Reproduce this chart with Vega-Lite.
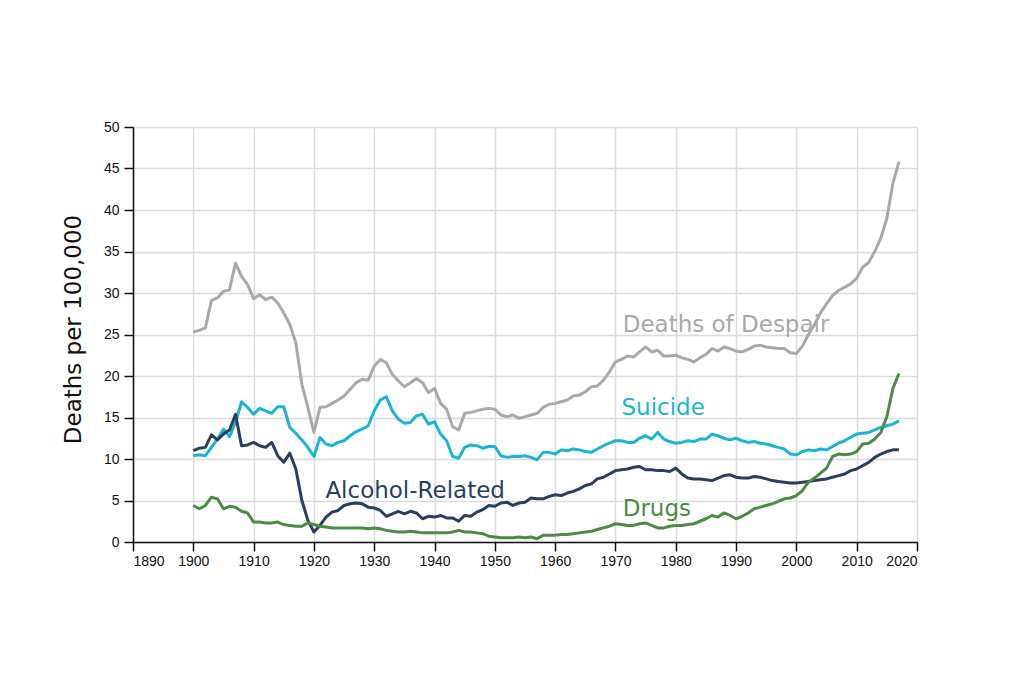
{
  "$schema": "https://vega.github.io/schema/vega-lite/v6.json",
  "autosize": "none",
  "width": 784,
  "height": 415,
  "padding": {"left": 133, "top": 127, "right": 107, "bottom": 138},
  "background": "#ffffff",
  "config": {"view": {"stroke": null}},
  "datasets": {
    "rates": [
      {"year":1900,"despair":25.3,"suicide":10.4,"alcohol":11.0,"drugs":4.4},
      {"year":1901,"despair":25.5,"suicide":10.5,"alcohol":11.3,"drugs":4.0},
      {"year":1902,"despair":25.8,"suicide":10.4,"alcohol":11.4,"drugs":4.4},
      {"year":1903,"despair":29.1,"suicide":11.4,"alcohol":12.9,"drugs":5.4},
      {"year":1904,"despair":29.4,"suicide":12.4,"alcohol":12.3,"drugs":5.2},
      {"year":1905,"despair":30.2,"suicide":13.6,"alcohol":13.0,"drugs":4.0},
      {"year":1906,"despair":30.4,"suicide":12.7,"alcohol":13.5,"drugs":4.3},
      {"year":1907,"despair":33.6,"suicide":14.4,"alcohol":15.4,"drugs":4.2},
      {"year":1908,"despair":32.0,"suicide":16.9,"alcohol":11.6,"drugs":3.7},
      {"year":1909,"despair":31.0,"suicide":16.2,"alcohol":11.7,"drugs":3.5},
      {"year":1910,"despair":29.3,"suicide":15.4,"alcohol":12.0,"drugs":2.4},
      {"year":1911,"despair":29.8,"suicide":16.1,"alcohol":11.6,"drugs":2.4},
      {"year":1912,"despair":29.2,"suicide":15.8,"alcohol":11.4,"drugs":2.3},
      {"year":1913,"despair":29.5,"suicide":15.5,"alcohol":12.0,"drugs":2.3},
      {"year":1914,"despair":28.8,"suicide":16.3,"alcohol":10.4,"drugs":2.4},
      {"year":1915,"despair":27.6,"suicide":16.3,"alcohol":9.6,"drugs":2.1},
      {"year":1916,"despair":26.2,"suicide":13.8,"alcohol":10.7,"drugs":2.0},
      {"year":1917,"despair":24.0,"suicide":13.1,"alcohol":8.8,"drugs":1.9},
      {"year":1918,"despair":19.0,"suicide":12.3,"alcohol":5.0,"drugs":1.9},
      {"year":1919,"despair":16.2,"suicide":11.4,"alcohol":2.6,"drugs":2.3},
      {"year":1920,"despair":13.2,"suicide":10.3,"alcohol":1.2,"drugs":2.1},
      {"year":1921,"despair":16.2,"suicide":12.6,"alcohol":2.0,"drugs":1.9},
      {"year":1922,"despair":16.3,"suicide":11.8,"alcohol":3.0,"drugs":1.8},
      {"year":1923,"despair":16.7,"suicide":11.6,"alcohol":3.6,"drugs":1.7},
      {"year":1924,"despair":17.1,"suicide":12.0,"alcohol":3.8,"drugs":1.7},
      {"year":1925,"despair":17.6,"suicide":12.2,"alcohol":4.4,"drugs":1.7},
      {"year":1926,"despair":18.4,"suicide":12.8,"alcohol":4.6,"drugs":1.7},
      {"year":1927,"despair":19.2,"suicide":13.3,"alcohol":4.7,"drugs":1.7},
      {"year":1928,"despair":19.6,"suicide":13.6,"alcohol":4.6,"drugs":1.7},
      {"year":1929,"despair":19.5,"suicide":14.0,"alcohol":4.2,"drugs":1.6},
      {"year":1930,"despair":21.2,"suicide":15.8,"alcohol":4.1,"drugs":1.7},
      {"year":1931,"despair":22.0,"suicide":17.1,"alcohol":3.8,"drugs":1.6},
      {"year":1932,"despair":21.6,"suicide":17.5,"alcohol":3.1,"drugs":1.4},
      {"year":1933,"despair":20.2,"suicide":15.8,"alcohol":3.4,"drugs":1.3},
      {"year":1934,"despair":19.4,"suicide":14.8,"alcohol":3.7,"drugs":1.2},
      {"year":1935,"despair":18.7,"suicide":14.3,"alcohol":3.4,"drugs":1.2},
      {"year":1936,"despair":19.2,"suicide":14.4,"alcohol":3.7,"drugs":1.3},
      {"year":1937,"despair":19.7,"suicide":15.2,"alcohol":3.5,"drugs":1.2},
      {"year":1938,"despair":19.2,"suicide":15.4,"alcohol":2.8,"drugs":1.1},
      {"year":1939,"despair":18.0,"suicide":14.2,"alcohol":3.1,"drugs":1.1},
      {"year":1940,"despair":18.5,"suicide":14.5,"alcohol":3.0,"drugs":1.1},
      {"year":1941,"despair":16.7,"suicide":13.0,"alcohol":3.2,"drugs":1.1},
      {"year":1942,"despair":16.0,"suicide":12.2,"alcohol":2.9,"drugs":1.1},
      {"year":1943,"despair":13.9,"suicide":10.3,"alcohol":2.9,"drugs":1.2},
      {"year":1944,"despair":13.5,"suicide":10.1,"alcohol":2.5,"drugs":1.4},
      {"year":1945,"despair":15.5,"suicide":11.4,"alcohol":3.2,"drugs":1.2},
      {"year":1946,"despair":15.6,"suicide":11.7,"alcohol":3.1,"drugs":1.2},
      {"year":1947,"despair":15.8,"suicide":11.6,"alcohol":3.6,"drugs":1.1},
      {"year":1948,"despair":16.0,"suicide":11.3,"alcohol":3.9,"drugs":1.0},
      {"year":1949,"despair":16.1,"suicide":11.5,"alcohol":4.4,"drugs":0.7},
      {"year":1950,"despair":16.0,"suicide":11.5,"alcohol":4.3,"drugs":0.6},
      {"year":1951,"despair":15.3,"suicide":10.4,"alcohol":4.7,"drugs":0.5},
      {"year":1952,"despair":15.1,"suicide":10.2,"alcohol":4.8,"drugs":0.5},
      {"year":1953,"despair":15.3,"suicide":10.3,"alcohol":4.4,"drugs":0.5},
      {"year":1954,"despair":14.9,"suicide":10.3,"alcohol":4.7,"drugs":0.6},
      {"year":1955,"despair":15.1,"suicide":10.4,"alcohol":4.8,"drugs":0.5},
      {"year":1956,"despair":15.3,"suicide":10.2,"alcohol":5.3,"drugs":0.6},
      {"year":1957,"despair":15.5,"suicide":9.9,"alcohol":5.2,"drugs":0.4},
      {"year":1958,"despair":16.2,"suicide":10.8,"alcohol":5.2,"drugs":0.8},
      {"year":1959,"despair":16.6,"suicide":10.8,"alcohol":5.5,"drugs":0.8},
      {"year":1960,"despair":16.7,"suicide":10.6,"alcohol":5.7,"drugs":0.8},
      {"year":1961,"despair":16.9,"suicide":11.1,"alcohol":5.6,"drugs":0.9},
      {"year":1962,"despair":17.1,"suicide":11.0,"alcohol":5.9,"drugs":0.9},
      {"year":1963,"despair":17.6,"suicide":11.2,"alcohol":6.1,"drugs":1.0},
      {"year":1964,"despair":17.7,"suicide":11.1,"alcohol":6.4,"drugs":1.1},
      {"year":1965,"despair":18.1,"suicide":10.9,"alcohol":6.8,"drugs":1.2},
      {"year":1966,"despair":18.7,"suicide":10.8,"alcohol":7.0,"drugs":1.3},
      {"year":1967,"despair":18.8,"suicide":11.2,"alcohol":7.6,"drugs":1.5},
      {"year":1968,"despair":19.5,"suicide":11.6,"alcohol":7.8,"drugs":1.7},
      {"year":1969,"despair":20.5,"suicide":11.9,"alcohol":8.2,"drugs":1.9},
      {"year":1970,"despair":21.7,"suicide":12.2,"alcohol":8.6,"drugs":2.2},
      {"year":1971,"despair":22.0,"suicide":12.2,"alcohol":8.7,"drugs":2.1},
      {"year":1972,"despair":22.4,"suicide":12.0,"alcohol":8.8,"drugs":2.0},
      {"year":1973,"despair":22.3,"suicide":12.0,"alcohol":9.0,"drugs":2.0},
      {"year":1974,"despair":22.9,"suicide":12.5,"alcohol":9.1,"drugs":2.2},
      {"year":1975,"despair":23.5,"suicide":12.8,"alcohol":8.7,"drugs":2.3},
      {"year":1976,"despair":22.9,"suicide":12.4,"alcohol":8.7,"drugs":2.0},
      {"year":1977,"despair":23.1,"suicide":13.2,"alcohol":8.6,"drugs":1.7},
      {"year":1978,"despair":22.4,"suicide":12.4,"alcohol":8.6,"drugs":1.7},
      {"year":1979,"despair":22.4,"suicide":12.1,"alcohol":8.5,"drugs":1.9},
      {"year":1980,"despair":22.5,"suicide":11.9,"alcohol":8.9,"drugs":2.0},
      {"year":1981,"despair":22.2,"suicide":12.0,"alcohol":8.2,"drugs":2.0},
      {"year":1982,"despair":22.0,"suicide":12.2,"alcohol":7.7,"drugs":2.1},
      {"year":1983,"despair":21.7,"suicide":12.1,"alcohol":7.6,"drugs":2.2},
      {"year":1984,"despair":22.2,"suicide":12.4,"alcohol":7.6,"drugs":2.5},
      {"year":1985,"despair":22.6,"suicide":12.4,"alcohol":7.5,"drugs":2.8},
      {"year":1986,"despair":23.3,"suicide":13.0,"alcohol":7.4,"drugs":3.2},
      {"year":1987,"despair":23.0,"suicide":12.8,"alcohol":7.7,"drugs":3.0},
      {"year":1988,"despair":23.5,"suicide":12.5,"alcohol":8.0,"drugs":3.5},
      {"year":1989,"despair":23.3,"suicide":12.3,"alcohol":8.1,"drugs":3.2},
      {"year":1990,"despair":23.0,"suicide":12.5,"alcohol":7.8,"drugs":2.8},
      {"year":1991,"despair":22.9,"suicide":12.2,"alcohol":7.7,"drugs":3.1},
      {"year":1992,"despair":23.2,"suicide":12.0,"alcohol":7.7,"drugs":3.5},
      {"year":1993,"despair":23.6,"suicide":12.1,"alcohol":7.9,"drugs":4.0},
      {"year":1994,"despair":23.7,"suicide":11.9,"alcohol":7.8,"drugs":4.2},
      {"year":1995,"despair":23.5,"suicide":11.8,"alcohol":7.6,"drugs":4.4},
      {"year":1996,"despair":23.4,"suicide":11.6,"alcohol":7.4,"drugs":4.6},
      {"year":1997,"despair":23.3,"suicide":11.4,"alcohol":7.3,"drugs":4.9},
      {"year":1998,"despair":23.3,"suicide":11.2,"alcohol":7.2,"drugs":5.2},
      {"year":1999,"despair":22.8,"suicide":10.6,"alcohol":7.1,"drugs":5.3},
      {"year":2000,"despair":22.7,"suicide":10.5,"alcohol":7.1,"drugs":5.6},
      {"year":2001,"despair":23.6,"suicide":10.9,"alcohol":7.2,"drugs":6.2},
      {"year":2002,"despair":25.0,"suicide":11.1,"alcohol":7.3,"drugs":7.2},
      {"year":2003,"despair":26.2,"suicide":11.0,"alcohol":7.4,"drugs":7.7},
      {"year":2004,"despair":27.6,"suicide":11.2,"alcohol":7.5,"drugs":8.3},
      {"year":2005,"despair":28.7,"suicide":11.1,"alcohol":7.6,"drugs":8.9},
      {"year":2006,"despair":29.7,"suicide":11.5,"alcohol":7.8,"drugs":10.3},
      {"year":2007,"despair":30.3,"suicide":11.9,"alcohol":8.0,"drugs":10.6},
      {"year":2008,"despair":30.7,"suicide":12.2,"alcohol":8.2,"drugs":10.5},
      {"year":2009,"despair":31.1,"suicide":12.6,"alcohol":8.6,"drugs":10.6},
      {"year":2010,"despair":31.8,"suicide":13.0,"alcohol":8.8,"drugs":10.9},
      {"year":2011,"despair":33.1,"suicide":13.1,"alcohol":9.2,"drugs":11.8},
      {"year":2012,"despair":33.7,"suicide":13.2,"alcohol":9.6,"drugs":11.9},
      {"year":2013,"despair":35.0,"suicide":13.5,"alcohol":10.2,"drugs":12.4},
      {"year":2014,"despair":36.6,"suicide":13.8,"alcohol":10.6,"drugs":13.2},
      {"year":2015,"despair":39.0,"suicide":14.0,"alcohol":10.9,"drugs":15.1},
      {"year":2016,"despair":43.2,"suicide":14.2,"alcohol":11.1,"drugs":18.5},
      {"year":2017,"despair":45.8,"suicide":14.6,"alcohol":11.1,"drugs":20.3}
    ],
    "labels": [
      {"label": "Deaths of Despair", "series": "despair", "year": 1971.2, "value": 26.1},
      {"label": "Suicide", "series": "suicide", "year": 1971.0, "value": 16.1},
      {"label": "Alcohol-Related", "series": "alcohol", "year": 1921.9, "value": 6.1},
      {"label": "Drugs", "series": "drugs", "year": 1971.2, "value": 4.0}
    ]
  },
  "encoding": {
    "x": {
      "field": "year", "type": "quantitative",
      "scale": {"domain": [1890, 2020], "nice": false, "zero": false},
      "axis": {
        "title": null, "values": [1890,1900,1910,1920,1930,1940,1950,1960,1970,1980,1990,2000,2010,2020],
        "format": "d", "labelFont": "Liberation Sans", "labelFontSize": 14, "labelColor": "#111111",
        "labelPadding": 3, "tickSize": 9, "tickColor": "#111111", "tickWidth": 1.5,
        "domainColor": "#111111", "domainWidth": 1.5,
        "grid": true, "gridColor": "#dcdcdc", "gridWidth": 1.5
      }
    },
    "y": {
      "field": "value", "type": "quantitative",
      "scale": {"domain": [0, 50], "nice": false},
      "axis": {
        "title": "Deaths per 100,000", "titleFont": "DejaVu Sans", "titleFontSize": 23, "titleFontWeight": "normal",
        "titleColor": "#111111", "titleX": -60, "titleY": 202, "titleAngle": -90, "titleAlign": "center", "titleBaseline": "middle",
        "values": [0,5,10,15,20,25,30,35,40,45,50],
        "labelFont": "Liberation Sans", "labelFontSize": 14, "labelColor": "#111111",
        "labelPadding": 5, "tickSize": 9, "tickColor": "#111111", "tickWidth": 1.5,
        "domainColor": "#111111", "domainWidth": 1.5,
        "grid": true, "gridColor": "#dcdcdc", "gridWidth": 1.5
      }
    },
    "color": {
      "field": "series", "type": "nominal",
      "scale": {"domain": ["despair", "suicide", "alcohol", "drugs"], "range": ["#a9a9a9", "#1ab5d6", "#2a3f5f", "#4d8a45"]},
      "legend": null
    }
  },
  "layer": [
    {
      "data": {"name": "rates"},
      "transform": [{"fold": ["despair", "suicide", "alcohol", "drugs"], "as": ["series", "value"]}],
      "mark": {"type": "line", "strokeWidth": 3, "strokeJoin": "round"},
      "encoding": {"detail": {"field": "series"}}
    },
    {
      "data": {"name": "labels"},
      "mark": {"type": "text", "align": "left", "baseline": "middle", "font": "DejaVu Sans", "fontSize": 23},
      "encoding": {"text": {"field": "label"}}
    }
  ]
}
